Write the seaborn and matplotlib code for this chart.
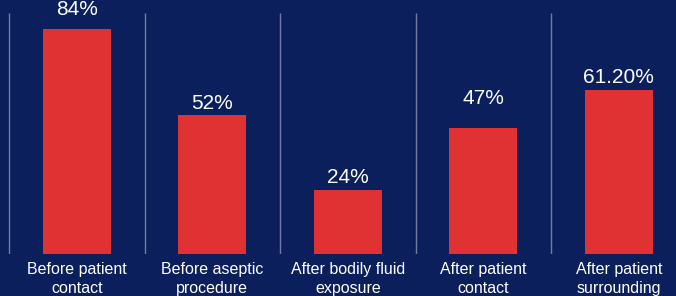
import matplotlib
matplotlib.use('Agg')
import matplotlib.pyplot as plt
import seaborn as sns
import pandas as pd

# data
categories = ['Before patient\ncontact', 'Before aseptic\nprocedure',
              'After bodily fluid\nexposure', 'After patient\ncontact',
              'After patient\nsurrounding']
values = [84, 52, 24, 47, 61.2]
value_labels = ['84%', '52%', '24%', '47%', '61.20%']

# style
_bg = '#0b1f5c'
_bar = '#e03232'
_sep = '#6d7ba3'
label_gap_px = [19, 11, 12, 30, 12]

sns.set_style('white')
plt.rcParams['font.family'] = ['Liberation Sans', 'DejaVu Sans']

fig = plt.figure(figsize=(6.76, 2.96), dpi=100)
fig.patch.set_facecolor(_bg)
ax = fig.add_axes([0, 42/296, 1, 1 - 42/296])
ax.set_facecolor(_bg)

df = pd.DataFrame({'cat': categories, 'val': values})
sns.barplot(data=df, x='cat', y='val', color=_bar, width=0.5,
            saturation=1, ax=ax, linewidth=0)

# separators between categories
ax.vlines([i - 0.5 for i in range(len(categories))], 0, 90,
          color=_sep, linewidth=1)

for i, (v, lab) in enumerate(zip(values, value_labels)):
    ax.annotate(lab, (i, v), xytext=(0, label_gap_px[i]),
                textcoords='offset pixels', ha='center', va='center',
                color='white', fontsize=15)

ax.set_xlim(-0.5 - 9/135.5, -0.5 + (676 - 9)/135.5)
ax.set_ylim(0, 254/2.68)
ax.set_xlabel('')
ax.set_ylabel('')
ax.set_yticks([])
ax.set_xticks(range(len(categories)))
ax.set_xticklabels(categories, color='white', fontsize=11.5, linespacing=1.3)
ax.tick_params(axis='x', length=0, pad=6)
for s in ax.spines.values():
    s.set_visible(False)

fig.savefig('out.png', dpi=100, facecolor=_bg)
